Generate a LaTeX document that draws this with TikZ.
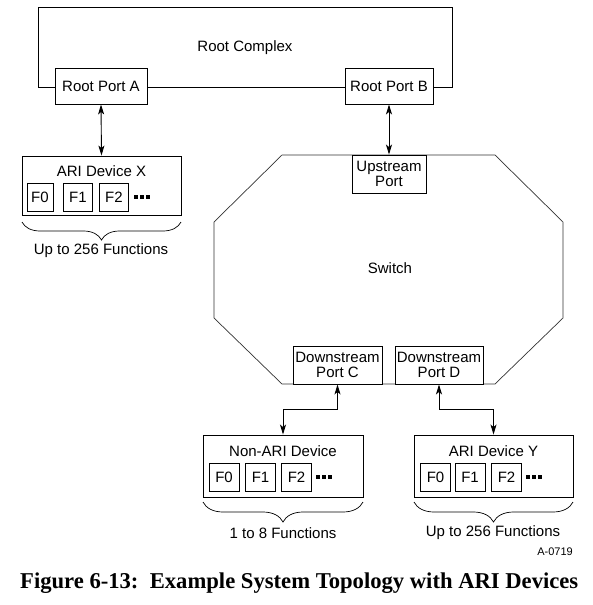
\documentclass[tikz,border=0pt]{standalone}
\usepackage{fontspec}
\usepackage{graphicx}
\setmainfont{Liberation Sans}
\newfontfamily\capfont{Liberation Serif}
\usetikzlibrary{arrows.meta,decorations.pathreplacing,calc}
\tikzset{
  box/.style={draw,line width=0.9pt,fill=white,inner sep=0pt,font=\fontsize{15}{15}\selectfont,align=center},
  fbox/.style={box,minimum width=29pt,minimum height=28pt},
  lbl/.style={inner sep=0pt,font=\fontsize{15}{15}\selectfont},
  biarrow/.style={line width=0.9pt,{Stealth[length=10pt,width=6pt,inset=2.5pt]}-{Stealth[length=10pt,width=6pt,inset=2.5pt]}},
  brc/.style={decorate,decoration={brace,mirror,amplitude=18pt},line width=0.7pt},
  fdots/.pic={\foreach \i in {0,6,12} \fill (\i,-2.2) rectangle ++(4,4.5);}
}
\begin{document}
\begin{tikzpicture}[x=1pt,y=-1pt]
\useasboundingbox (0,0) rectangle (592,605);
% Root complex
\node[box,minimum width=414pt,minimum height=80pt] (rc) at (245,47) {};
\node[lbl] (rclbl) at (245,48) {Root Complex};
\node[box,minimum width=92pt,minimum height=36pt] (rpa) at (101,86) {Root Port A};
\node[box,minimum width=88pt,minimum height=36pt] (rpb) at (389,86) {Root Port B};
% Device X
\node[box,minimum width=159pt,minimum height=59pt] (devx) at (101.5,185.5) {};
\node[lbl] (devxt) at (101.5,171) {ARI Device X};
\node[fbox,minimum width=26pt] (x0) at (40,197) {F0};
\node[fbox] (x1) at (78,197) {F1};
\node[fbox] (x2) at (114,197) {F2};
\pic at (134,197) {fdots};
\draw[brc] (22,222) -- (181,222);
\node[lbl] (xf) at (101,251) {Up to 256 Functions};
% Switch
\draw[line width=0.7pt,draw=black!80] (282,155) -- (495,155) -- (563,222) -- (563,318) -- (495,384) -- (282,384) -- (214,318) -- (214,222) -- cycle;
\node[lbl] (sw) at (390,268) {Switch};
\node[box,minimum width=74pt,minimum height=38pt] (up) at (389,174) {Upstream\\Port};
\node[box,minimum width=89pt,minimum height=38pt] (dpc) at (337.5,365) {Downstream\\Port C};
\node[box,minimum width=88pt,minimum height=38pt] (dpd) at (439,365) {Downstream\\Port D};
% Non-ARI
\node[box,minimum width=160pt,minimum height=62pt] (nonari) at (283,466) {};
\node[lbl] (nat) at (283,451) {Non-ARI Device};
\node[fbox,minimum width=30pt] (n0) at (224,477) {F0};
\node[fbox,minimum width=30pt] (n1) at (260.5,477) {F1};
\node[fbox,minimum width=30pt] (n2) at (296.5,477) {F2};
\pic at (316,477) {fdots};
\draw[brc,decoration={amplitude=20pt}] (203,502) -- (363,502);
\node[lbl] (nf) at (283,533) {1 to 8 Functions};
% ARI Y
\node[box,minimum width=159pt,minimum height=62pt] (ariy) at (493.5,466) {};
\node[lbl] (yt) at (493.5,451) {ARI Device Y};
\node[fbox,minimum width=30pt] (y0) at (435.5,477) {F0};
\node[fbox,minimum width=30pt] (y1) at (470,477) {F1};
\node[fbox,minimum width=30pt] (y2) at (506.5,477) {F2};
\pic at (526,477) {fdots};
\draw[brc,decoration={amplitude=20pt}] (414,502) -- (573,502);
\node[lbl] (yf) at (493,533) {Up to 256 Functions};
\node[inner sep=0pt,anchor=east,font=\fontsize{11}{11}\selectfont] (code) at (573,552) {A-0719};
% arrows
\draw[biarrow] (rpa.south) -- (devx.north);
\draw[biarrow] (rpb.south) -- (up.north);
\coordinate (my) at (0,409);
\draw[biarrow] (dpc.south) -- (dpc.south |- my) -| (nonari.north);
\draw[biarrow] (dpd.south) -- (dpd.south |- my) -| (ariy.north);
% caption
\node[anchor=west,inner sep=0pt] (cap) at (20,583) {\resizebox{558pt}{!}{\capfont\bfseries Figure 6-13:\ \ Example System Topology with ARI Devices}};
\end{tikzpicture}
\end{document}
